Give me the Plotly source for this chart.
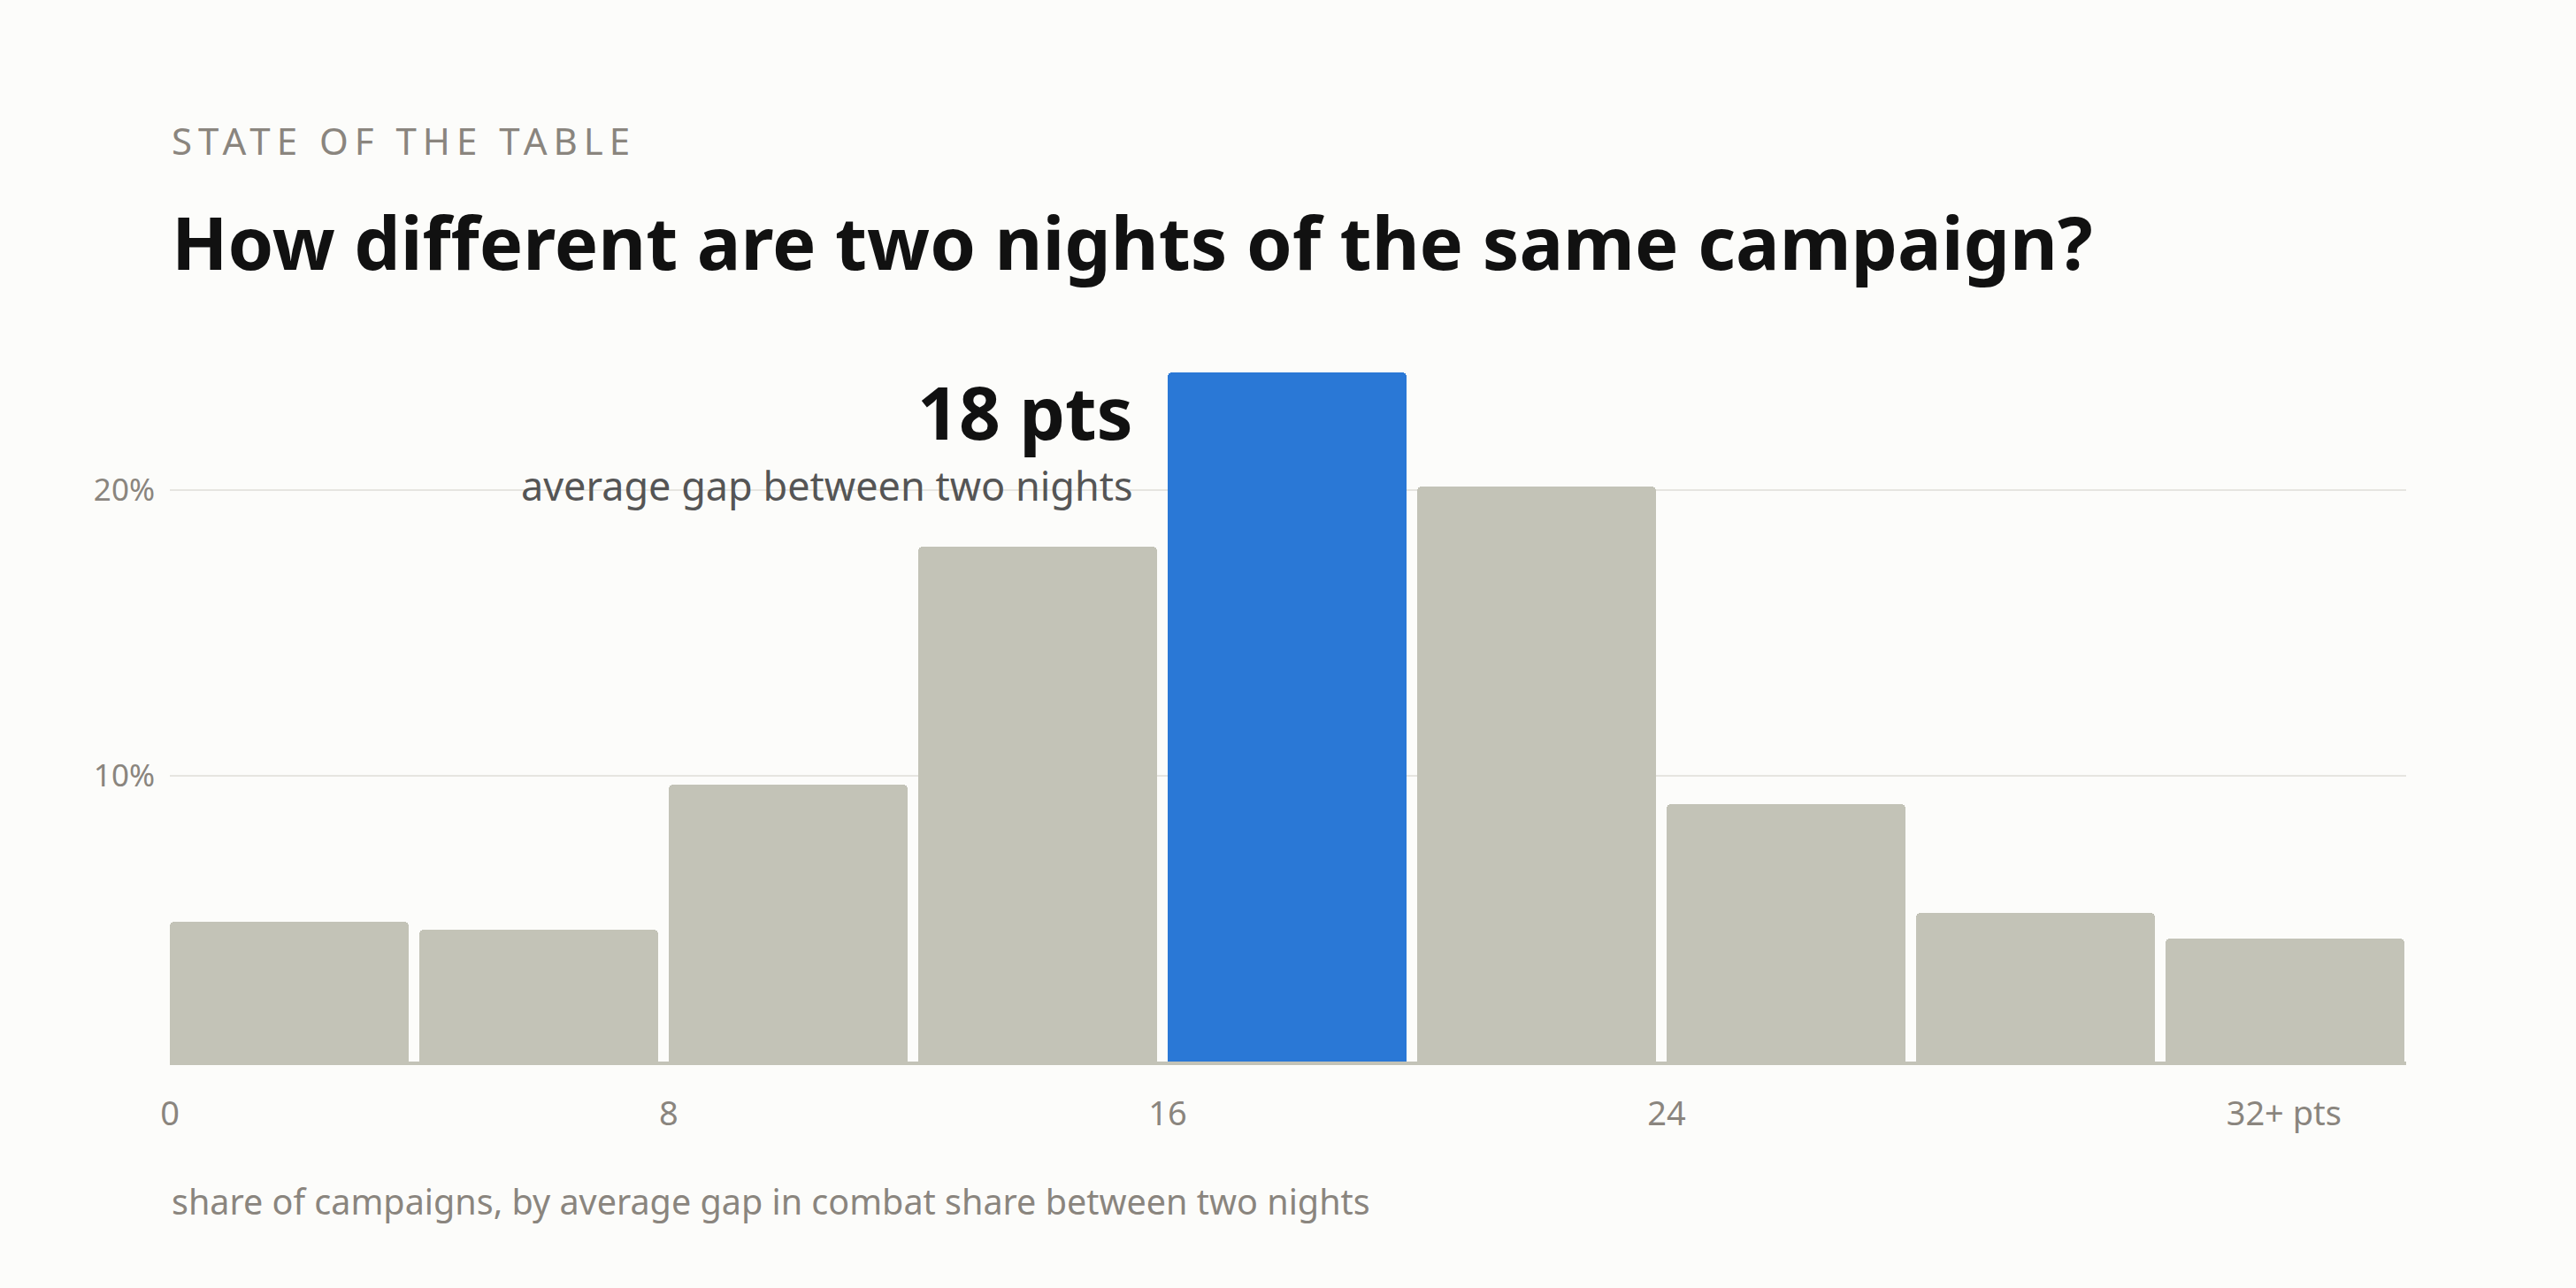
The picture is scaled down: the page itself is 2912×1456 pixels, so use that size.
import plotly.graph_objects as go

# histogram bins (left edge, pts) and share of campaigns (%)
bin_start = [0, 4, 8, 12, 16, 20, 24, 28, 32]
share = [4.9, 4.6, 9.7, 18.0, 24.1, 20.1, 9.0, 5.2, 4.3]
highlight = 16  # bin holding the average gap

tick_vals = [0, 8, 16, 24, 33.9]
tick_text = ['0', '8', '16', '24', '32+ pts']
y_ticks = [10, 20]
y_text = ['10%', '20%']

FONT = 'Segoe UI, Noto Sans, sans-serif'
BG = '#fcfcfa'
GREY_BAR = '#c3c3b7'
BLUE = '#2a78d6'
MUTED = '#8a857e'

colors = [BLUE if b == highlight else GREY_BAR for b in bin_start]

fig = go.Figure(
    go.Bar(
        x=bin_start,
        y=share,
        offset=0,
        width=3.83,
        marker=dict(color=colors, cornerradius=5, line_width=0),
        hoverinfo='skip',
    )
)

fig.update_layout(
    width=2912,
    height=1456,
    margin=dict(l=192, r=192, t=392, b=256),
    paper_bgcolor=BG,
    plot_bgcolor=BG,
    font=dict(family=FONT, color=MUTED),
    showlegend=False,
    bargap=0,
)

fig.update_xaxes(
    range=[0, 35.86],
    tickvals=tick_vals,
    ticktext=tick_text,
    tickfont=dict(size=38, color=MUTED),
    showgrid=False,
    zeroline=False,
    showline=True,
    linecolor=GREY_BAR,
    linewidth=4,
    ticks='',
    ticklabelstandoff=22,
)

fig.update_yaxes(
    range=[0, 25],
    tickvals=y_ticks,
    ticktext=y_text,
    tickfont=dict(size=35, color=MUTED),
    showgrid=True,
    gridcolor='#e6e5e0',
    gridwidth=2,
    zeroline=False,
    ticks='',
    ticklabelstandoff=16,
)

# header
fig.add_annotation(
    text='<span style="letter-spacing:7px">STATE OF THE TABLE</span>',
    xref='paper', yref='paper', x=0, y=1.2896,
    xanchor='left', yanchor='middle', showarrow=False,
    font=dict(size=42, color=MUTED),
)
fig.add_annotation(
    text='<b>How different are two nights of the same campaign?</b>',
    xref='paper', yref='paper', x=0, y=1.148,
    xanchor='left', yanchor='middle', showarrow=False,
    font=dict(size=83, color='#111111'),
)

# callout next to the highlighted bar
fig.add_annotation(
    text='<b>18 pts</b>',
    x=highlight, y=22.75, xshift=-37,
    xanchor='right', yanchor='middle', showarrow=False,
    font=dict(size=82, color='#111111'),
)
fig.add_annotation(
    text='average gap between two nights',
    x=highlight, y=20.15, xshift=-37,
    xanchor='right', yanchor='middle', showarrow=False,
    font=dict(size=45, color='#555555'),
)

# footnote
fig.add_annotation(
    text='share of campaigns, by average gap in combat share between two nights',
    xref='paper', yref='paper', x=0, y=-0.195,
    xanchor='left', yanchor='middle', showarrow=False,
    font=dict(size=39.5, color=MUTED),
)

# drop the default page margin so the figure fills the window
fig.write_html(
    'out.html',
    config={'displayModeBar': False},
    post_script="document.body.style.margin='0';document.body.style.background='%s';" % BG,
)
